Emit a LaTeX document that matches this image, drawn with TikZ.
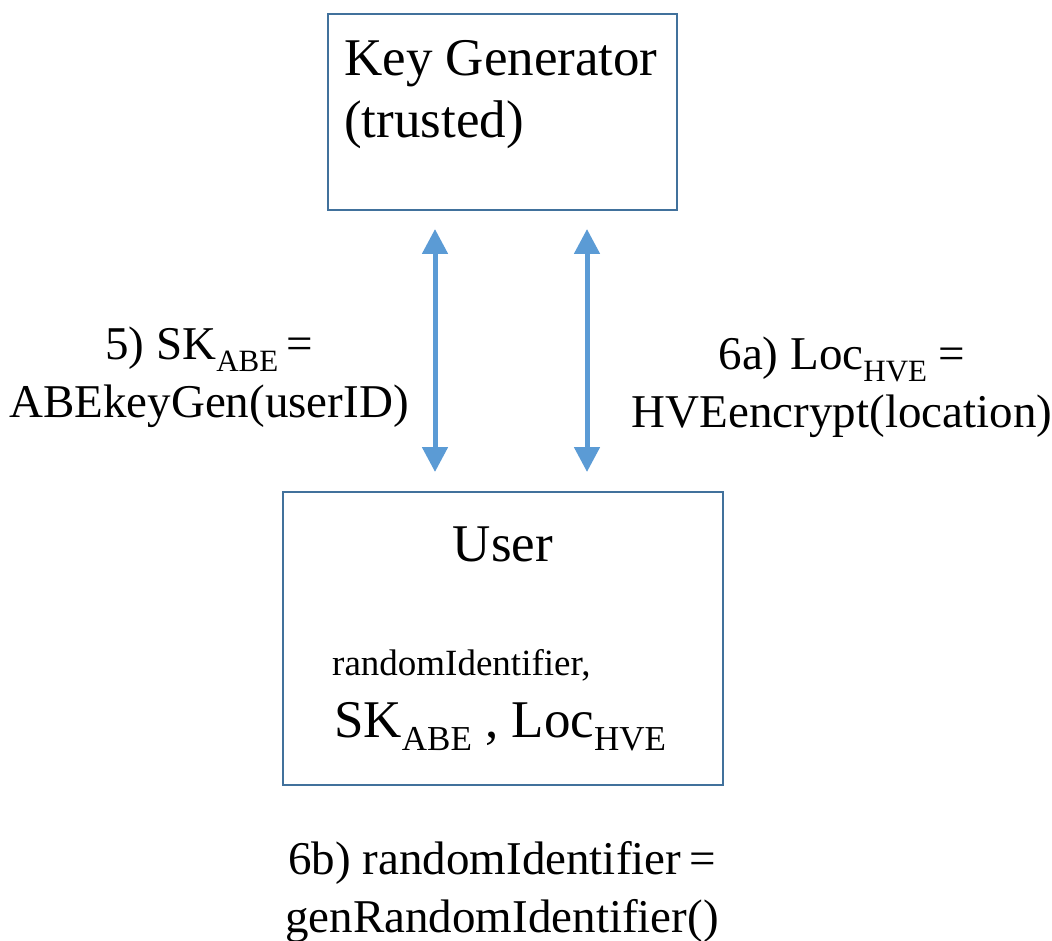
\documentclass[tikz,border=0pt]{standalone}
\usepackage{fontspec}
\setmainfont{Liberation Serif}
\usetikzlibrary{arrows.meta}

\definecolor{boxline}{HTML}{41719C}
\definecolor{flow}{HTML}{5B9BD5}

% lowered, smaller text used for the ABE / HVE indices
\newcommand\lowered[2]{\raisebox{-0.26em}{\fontsize{#1}{#1}\selectfont #2}}

\tikzset{
  entity/.style={draw=boxline, line width=2pt, rectangle, inner sep=0pt},
  bigtext/.style={inner sep=0pt, font=\fontsize{53}{62}\selectfont},
  midtext/.style={inner sep=0pt, font=\fontsize{37}{44}\selectfont},
  steplabel/.style={inner sep=0pt, align=center, font=\fontsize{47}{58}\selectfont},
  biarrow/.style={draw=flow, line width=5pt,
    {Triangle[width=25pt,length=25pt]}-{Triangle[width=25pt,length=25pt]}}
}

\begin{document}
\begin{tikzpicture}[x=1pt, y=-1pt]
  \useasboundingbox (0,0) rectangle (1052,941);

  % boxes
  \node[entity, minimum width=349pt, minimum height=196pt] (kg) at (502.5,112) {};
  \node[entity, minimum width=440pt, minimum height=293pt] (user) at (503,638.5) {};

  % box contents (multi-line nodes are placed by their last baseline)
  \node[bigtext, anchor=base west, align=left] (kgname) at (344,138) {Key Generator\\(trusted)};
  \node[bigtext, anchor=base] (username) at (503,561) {User};
  \node[midtext, anchor=base west] (userid) at (332,675) {randomIdentifier,};
  \node[bigtext, anchor=base west] (userkeys) at (334,737)
    {SK\lowered{35}{ABE} , Loc\lowered{35}{HVE}};

  % exchanges between the user and the key generator
  \coordinate (lane1) at (435,0);
  \coordinate (lane2) at (587,0);
  \draw[biarrow, shorten <=18pt, shorten >=19pt] (kg.south -| lane1) -- (user.north -| lane1);
  \draw[biarrow, shorten <=18pt, shorten >=19pt] (kg.south -| lane2) -- (user.north -| lane2);

  % step labels
  \node[steplabel, anchor=base] (s5) at (209,417)
    {5) SK\lowered{31}{ABE}\,=\\ABEkeyGen(userID)};
  \node[steplabel, anchor=base] (s6a) at (842,427)
    {6a) Loc\lowered{31}{HVE} =\\HVEencrypt(location)};
  \node[steplabel, anchor=base] (s6b) at (502,932)
    {6b) randomIdentifier\,=\\genRandomIdentifier()};
\end{tikzpicture}
\end{document}
